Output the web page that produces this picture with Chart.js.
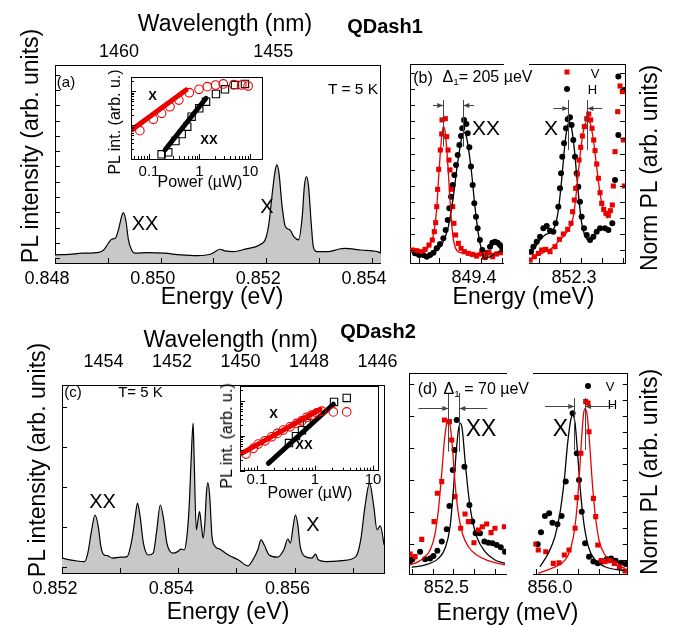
<!DOCTYPE html>
<html><head><meta charset="utf-8">
<script src="https://cdn.jsdelivr.net/npm/chart.js@4.4.1/dist/chart.umd.min.js"></script>
<style>
html,body{margin:0;padding:0;background:#fff;}
#fig{position:relative;width:675px;height:625px;overflow:hidden;background:#fff;font-family:'Liberation Sans',Arial,Helvetica,sans-serif;color:#000;}
#fig canvas{position:absolute;}
.t{position:absolute;white-space:nowrap;transform:translate(-50%,-50%);line-height:1;}
.r{transform:translate(-50%,-50%) rotate(-90deg);}
.mk{position:absolute;transform:translate(-50%,-50%);}
</style></head><body><div id="fig"></div>
<script>
// ================= DATA =================
// (a) QDash1 spectrum
const aEnergy = [0.84800,0.84827,0.84852,0.84883,0.84892,0.84901,0.84907,0.84914,0.84920,0.84926,0.84929,0.84934,0.84939,0.84945,0.84951,0.84976,0.85007,0.85038,0.85069,0.85094,0.85103,0.85112,0.85122,0.85137,0.85162,0.85187,0.85199,0.85205,0.85212,0.85217,0.85220,0.85224,0.85230,0.85236,0.85245,0.85252,0.85261,0.85268,0.85272,0.85276,0.85280,0.85285,0.85289,0.85296,0.85317,0.85336,0.85348,0.85379,0.85410,0.85417];
const aPL = [0.22,0.26,0.33,0.39,0.54,0.98,1.24,1.31,1.85,2.72,2.98,2.50,1.20,0.54,0.33,0.37,0.33,0.22,0.17,0.26,0.43,0.59,0.48,0.43,0.61,0.87,1.31,2.29,4.46,5.77,6.10,5.56,3.37,2.07,1.85,1.41,1.20,2.72,4.68,5.33,4.68,2.29,0.76,0.43,0.43,0.59,0.65,0.54,0.43,0.33];
const aEnergyTicks = [0.848,0.850,0.852,0.854];
const aEnergyTickLabels = ['0.848','0.850','0.852','0.854'];
const aWaveTicks = [1460,1455];
const aWaveTickLabels = ['1460','1455'];

// (a) inset: power dependence
const iaXPower = [0.066,0.122,0.178,0.26,0.39,0.63,0.98,1.43,2.09,2.96,4.8,6.9,9.2];
const iaXInt   = [6.8,14.7,22,34.5,54,89,112,134,150,161,153,150,140];
const iaXXPower = [0.178,0.241,0.335,0.445,0.573,0.70,0.99,1.35,2.12,3.2,5.05,7.96];
const iaXXInt   = [1.37,1.57,3.38,5.43,8.9,17.5,31,48.4,81.6,112,150,161];
const iaXFitPower = [0.0454,0.541];
const iaXFitInt   = [7.13,107];
const iaXXFitPower = [0.2075,1.346];
const iaXXFitInt   = [1.84,61];
const insetPowerTicks = [0.1,1,10];
const insetPowerTickLabels = ['0.1','1','10'];

// (b) QDash1 polarization-resolved, left (XX) and right (X)
const bXX_V_E  = [848.740,848.781,848.823,848.862,848.900,848.932,848.951,848.964,848.974,848.983,848.993,849.009,849.022,849.025,849.057,849.070,849.083,849.092,849.102,849.115,849.128,849.140,849.156,849.182,849.208,849.240,849.278,849.317,849.358,849.400,849.438,849.477,849.512,849.551,849.592];
const bXX_V_PL = [0.0,-0.005,-0.013,0.005,0.039,0.078,0.143,0.213,0.337,0.472,0.628,0.778,0.903,1.012,1.022,0.882,0.778,0.700,0.623,0.472,0.337,0.208,0.117,0.052,0.013,-0.013,-0.026,-0.034,-0.047,-0.031,-0.057,-0.021,-0.052,-0.031,-0.021];
const bXX_Vfit_E  = [848.733,848.830,848.894,848.942,848.974,848.990,849.006,849.022,849.038,849.054,849.070,849.086,849.102,849.118,849.134,849.156,849.198,849.310,849.615];
const bXX_Vfit_PL = [-0.005,-0.005,0.021,0.117,0.324,0.532,0.726,0.887,0.960,0.926,0.791,0.597,0.389,0.208,0.083,0.013,-0.021,-0.026,-0.026];
const bXX_H_E  = [848.765,848.804,848.845,848.878,848.910,848.942,848.974,849.006,849.038,849.060,849.080,849.095,849.112,849.128,849.144,849.160,849.176,849.192,849.208,849.220,849.237,849.259,849.272,849.288,849.304,849.320,849.336,849.352,849.368,849.390,849.413,849.438,849.464,849.487,849.509,849.535,849.560,849.583,849.605];
const bXX_H_PL = [-0.026,-0.039,-0.039,-0.052,-0.039,-0.021,0.013,0.047,0.091,0.156,0.233,0.324,0.415,0.506,0.584,0.661,0.739,0.817,0.887,0.947,1.012,0.981,0.908,0.799,0.649,0.506,0.363,0.259,0.169,0.078,0,-0.057,-0.021,0.026,0.057,0.065,0.057,0.039,0.013];
const bXX_Hfit_E  = [848.733,848.862,848.958,849.022,849.086,849.134,849.166,849.198,849.220,849.237,849.253,849.278,849.310,849.342,849.374,849.406,849.438,849.487,849.551,849.615];
const bXX_Hfit_PL = [-0.021,-0.039,-0.013,0.039,0.182,0.415,0.623,0.799,0.892,0.916,0.903,0.799,0.597,0.337,0.130,0,-0.065,-0.052,-0.021,-0.005];
const bX_H_E  = [851.819,851.842,851.874,851.906,851.938,851.970,852.002,852.034,852.056,852.082,852.098,852.108,852.120,852.137,852.156,852.172,852.194,852.210,852.226,852.242,852.258,852.274,852.290,852.306,852.329,852.355,852.387,852.419,852.451,852.483,852.531,852.563,852.601,852.627,852.659,852.659,852.713];
const bX_H_PL = [-0.013,0.026,0.065,0.104,0.169,0.187,0.150,0.143,0.208,0.337,0.480,0.597,0.726,0.830,0.947,1.017,1.032,0.973,0.856,0.726,0.597,0.493,0.376,0.259,0.169,0.117,0.078,0.104,0.143,0.169,0.169,0.156,0.208,0.545,0.895,1.349,1.245];
const bX_Hfit_E  = [851.810,851.858,851.906,851.954,852.002,852.050,852.082,852.114,852.146,852.169,852.188,852.210,852.236,852.258,852.284,852.306,852.332,852.370,852.403];
const bX_Hfit_PL = [-0.026,0.021,0.078,0.117,0.135,0.187,0.311,0.545,0.830,0.960,0.996,0.947,0.783,0.584,0.363,0.213,0.125,0.078,0.078];
const bX_V_E  = [851.810,851.851,851.890,851.922,851.960,852.002,852.050,852.092,852.130,852.172,852.204,852.220,852.236,852.249,852.265,852.281,852.297,852.313,852.332,852.355,852.374,852.393,852.406,852.422,852.435,852.451,852.467,852.483,852.499,852.518,852.540,852.563,852.582,852.601,852.611,852.627,852.653,852.675,852.697,852.707,852.716];
const bX_V_PL = [-0.078,-0.052,-0.026,0,0.005,-0.013,0.026,0.083,0.125,0.161,0.208,0.298,0.389,0.480,0.591,0.700,0.799,0.887,0.960,1.022,1.058,1.012,0.947,0.856,0.773,0.669,0.558,0.446,0.363,0.316,0.285,0.270,0.306,0.350,0.498,0.765,1.076,1.276,1.232,0.856,0.498];
const bX_Vfit_E  = [851.810,851.890,851.954,852.018,852.082,852.130,852.178,852.226,852.258,852.290,852.322,852.345,852.364,852.387,852.419,852.451,852.483,852.515,852.556];
const bX_Vfit_PL = [-0.073,-0.039,-0.013,0.013,0.065,0.104,0.156,0.259,0.467,0.726,0.921,0.991,1.012,0.991,0.856,0.643,0.441,0.311,0.246];
const bXXTickLabelVal = [849.4];
const bXXTickLabels = ['849.4'];
const bXTickLabelVal = [852.3];
const bXTickLabels = ['852.3'];
const bXXPeaks = [849.037,849.230];
const bXPeaks = [852.178,852.361];

// (c) QDash2 spectrum
const cEnergy = [0.852000,0.852219,0.852388,0.852444,0.852501,0.852568,0.852624,0.852669,0.852725,0.852781,0.852865,0.853007,0.853118,0.853202,0.853260,0.853298,0.853344,0.853400,0.853484,0.853568,0.853624,0.853691,0.853749,0.853804,0.853906,0.853990,0.854046,0.854103,0.854142,0.854187,0.854221,0.854255,0.854272,0.854310,0.854339,0.854366,0.854400,0.854428,0.854457,0.854484,0.854508,0.854541,0.854580,0.854636,0.854720,0.854862,0.855030,0.855199,0.855283,0.855368,0.855423,0.855479,0.855563,0.855705,0.855816,0.855884,0.855929,0.855975,0.856014,0.856052,0.856098,0.856182,0.856295,0.856363,0.856406,0.856548,0.856828,0.857054,0.857138,0.857211,0.857290,0.857363,0.857418,0.857476,0.857540];
const cPL = [0.21,0.15,0.125,0.335,0.835,1.29,1.0,0.5,0.29,0.275,0.21,0.235,0.25,0.67,1.25,1.585,1.25,0.585,0.29,0.335,0.835,1.54,1.17,0.585,0.335,0.375,0.435,0.42,0.67,1.5,2.67,3.585,2.75,0.92,1.17,1.375,1.0,0.71,1.085,1.835,2.1,1.75,0.75,0.5,0.435,0.29,0.17,0.02,0.17,0.42,0.67,0.54,0.29,0.235,0.42,0.69,0.585,1.0,1.29,1.085,0.5,0.25,0.21,0.31,0.17,0.125,0.15,0.25,0.67,1.5,2.085,1.5,0.92,1.02,0.54];
const cEnergyTicks = [0.852,0.854,0.856];
const cEnergyTickLabels = ['0.852','0.854','0.856'];
const cWaveTicks = [1454,1452,1450,1448,1446];
const cWaveTickLabels = ['1454','1452','1450','1448','1446'];

// (c) inset
const icXPower = [0.0646,0.0863,0.105,0.137,0.179,0.224,0.284,0.371,0.483,0.59,0.72,0.877,1.07,1.31,2.07,3.52];
const icXInt   = [3.0,4.37,5.8,7.2,9.36,11.7,14.6,18.1,22.6,26.8,33.6,39,45.4,50.8,48.5,48.5];
const icXXPower = [0.356,0.47,0.597,0.728,2.13,3.52];
const icXXInt   = [6.19,9.8,14.5,23,93.6,122];
const icXFitPower = [0.0545,1.22];
const icXFitInt   = [3.14,56.8];
const icXXFitPower = [0.157,2.07];
const icXXFitInt   = [1.63,80.5];

// (d) QDash2 polarization-resolved (V = black circles, H = red squares)
const dXX_V_E  = [852.292,852.303,852.340,852.364,852.388,852.404,852.423,852.444,852.468,852.481,852.497,852.505,852.516,852.553,852.577,852.591,852.607,852.628,852.649,852.668,852.688,852.708,852.728,852.748];
const dXX_V_PL = [-0.010,0.004,0.052,0.004,0.010,0.025,0.058,0.115,0.192,0.3375,0.5625,0.6875,0.875,0.583,0.344,0.240,0.167,0.167,0.115,0.108,0.104,0.094,0.079,0.052];
const dXX_H_E  = [852.292,852.316,852.348,852.407,852.423,852.444,852.457,852.481,852.492,852.508,852.535,852.556,852.572,852.599,852.620,852.639,852.660,852.681,852.700,852.745];
const dXX_H_PL = [0.0375,0.021,0.129,0.240,0.417,0.490,0.875,0.865,0.750,0.396,0.198,0.288,0.240,0.108,0.1875,0.208,0.225,0.171,0.198,0.208];
const dXX_Vfit_E  = [852.300,852.364,852.428,852.460,852.484,852.500,852.513,852.524,852.534,852.543,852.556,852.572,852.588,852.612,852.652,852.700,852.748];
const dXX_Vfit_PL = [-0.046,-0.031,0.010,0.073,0.208,0.4375,0.667,0.8125,0.854,0.8125,0.625,0.417,0.271,0.146,0.052,0,-0.021];
const dXX_Hfit_E  = [852.292,852.332,852.364,852.388,852.409,852.428,852.444,852.457,852.468,852.476,852.484,852.495,852.508,852.524,852.543,852.572,852.612,852.668,852.748];
const dXX_Hfit_PL = [-0.031,-0.010,0.021,0.0625,0.146,0.3125,0.542,0.75,0.854,0.875,0.844,0.708,0.479,0.292,0.167,0.083,0.031,-0.004,-0.031];
const dX_V_E  = [855.907,855.923,855.942,855.962,855.978,856.002,856.022,856.042,856.075,856.095,856.106,856.119,856.135,856.154,856.175,856.196,856.215,856.239,856.260,856.282,856.308,856.330];
const dX_V_PL = [0.098,0.173,0.275,0.292,0.233,0.223,0.275,0.490,0.917,0.667,0.5,0.302,0.104,0.021,-0.010,-0.021,-0.010,0.004,0.010,-0.004,-0.017,-0.025];
const dX_H_E  = [855.890,855.910,855.946,855.982,856.010,856.035,856.058,856.087,856.095,856.115,856.138,856.154,856.175,856.186,856.196,856.212,856.231,856.255,856.276,856.300,856.327];
const dX_H_PL = [0.1,0.0625,0.052,-0.021,-0.017,0.031,0.0625,0.198,0.390,0.667,0.990,0.802,0.385,0.271,0.094,-0.004,-0.010,-0.004,-0.021,-0.042,-0.069];
const dX_Vfit_E  = [855.918,855.958,855.990,856.014,856.035,856.051,856.066,856.075,856.087,856.099,856.111,856.127,856.151,856.183,856.231,856.327];
const dX_Vfit_PL = [-0.042,0.042,0.146,0.292,0.5,0.729,0.875,0.906,0.854,0.667,0.458,0.25,0.083,0,-0.042,-0.067];
const dX_Hfit_E  = [855.910,855.974,856.022,856.054,856.079,856.095,856.107,856.119,856.128,856.136,856.146,856.159,856.170,856.183,856.202,856.231,856.271,856.327];
const dX_Hfit_PL = [-0.083,-0.052,-0.021,0.031,0.146,0.3125,0.521,0.771,0.917,0.948,0.896,0.6875,0.479,0.292,0.125,0.031,-0.021,-0.052];
const dXXTickLabelVal = [852.5];
const dXXTickLabels = ['852.5'];
const dXTickLabelVal = [856.0];
const dXTickLabels = ['856.0'];
const dXXPeaks = [852.476,852.529];
const dXPeaks = [856.083,856.135];

// ================= HELPERS =================
const FONT = "'Liberation Sans', Arial, Helvetica, sans-serif";
const RED = 'rgb(235,0,0)';
const GRAY = 'rgb(200,200,200)';
Chart.defaults.font.family = FONT;
const fig = document.getElementById('fig');
const pts = (xs, ys) => xs.map((x, i) => ({x: x, y: ys[i]}));
const lam = E => 1239.84 / E;
function logMinor(min, max){ const o=[]; for(let e=-3;e<=4;e++) for(let k=1;k<10;k++){ const v=k*Math.pow(10,e); if(v>=min*0.999&&v<=max*1.001) o.push(v);} return o; }
function logMajor(min, max){ const o=[]; for(let e=-3;e<=4;e++){ const v=Math.pow(10,e); if(v>=min&&v<=max) o.push(v);} return o; }

function text(str, cx, cy, size, opt){
  opt = opt || {};
  const d = document.createElement('div');
  d.className = 't' + (opt.rot ? ' r' : '');
  d.style.left = cx + 'px'; d.style.top = cy + 'px'; d.style.fontSize = size + 'px';
  if (opt.bold) d.style.fontWeight = 'bold';
  if (opt.html) d.innerHTML = str; else d.textContent = str;
  fig.appendChild(d);
}
function marker(cx, cy, kind){
  const d = document.createElement('div');
  d.className = 'mk';
  d.style.left = cx + 'px'; d.style.top = cy + 'px';
  if (kind === 'sq'){ d.style.width='5px'; d.style.height='5px'; d.style.background=RED; }
  else { d.style.width='6px'; d.style.height='6px'; d.style.background='#000'; d.style.borderRadius='50%'; }
  fig.appendChild(d);
}

function axis(pos, min, max, o){
  o = o || {};
  const s = {
    type: o.type || 'linear', position: pos, min: min, max: max, reverse: !!o.reverse,
    grid: {display: false, drawTicks: false},
    border: {display: true, color: '#000', width: 1},
    ticks: {display: !!o.labels, font: {family: FONT, size: o.size || 18}, color: '#000',
            padding: o.pad || 0, labelOffset: o.off || 0, maxRotation: 0, minRotation: 0,
            autoSkip: false, includeBounds: false}
  };
  if (o.labels){
    const vals = o.ticks, labs = o.labels;
    s.afterBuildTicks = sc => { sc.ticks = vals.map(v => ({value: v})); };
    s.ticks.callback = (v, i) => labs[i];
  }
  return s;
}

function deco(d){
  return { id: 'deco', afterDatasetsDraw(chart){
    const ctx = chart.ctx, ca = chart.chartArea;
    ctx.save();
    ctx.lineWidth = 1; ctx.strokeStyle = '#000';
    (d.ticks || []).forEach(t => {
      const sc = chart.scales[t.scale];
      t.values.forEach(v => {
        const p = Math.round(sc.getPixelForValue(v)) + 0.5;
        ctx.beginPath();
        if (t.edge === 'bottom'){ ctx.moveTo(p, ca.bottom); ctx.lineTo(p, ca.bottom - t.len); }
        else if (t.edge === 'top'){ ctx.moveTo(p, ca.top); ctx.lineTo(p, ca.top + t.len); }
        else if (t.edge === 'left'){ ctx.moveTo(ca.left, p); ctx.lineTo(ca.left + t.len, p); }
        else { ctx.moveTo(ca.right, p); ctx.lineTo(ca.right - t.len, p); }
        ctx.stroke();
      });
    });
    const sx = chart.scales.x, sy = chart.scales.y;
    ctx.strokeStyle = '#444'; ctx.fillStyle = '#444';
    (d.vlines || []).forEach(l => {
      const x = Math.round(sx.getPixelForValue(l.x)) + 0.5;
      ctx.beginPath(); ctx.moveTo(x, sy.getPixelForValue(l.y1)); ctx.lineTo(x, sy.getPixelForValue(l.y2)); ctx.stroke();
    });
    (d.arrows || []).forEach(a => {
      const x1 = sx.getPixelForValue(a.from), x2 = sx.getPixelForValue(a.to);
      const y = Math.round(sy.getPixelForValue(a.y)) + 0.5;
      const dir = x2 > x1 ? 1 : -1;
      ctx.beginPath(); ctx.moveTo(x1, y); ctx.lineTo(x2, y); ctx.stroke();
      ctx.beginPath(); ctx.moveTo(x2, y); ctx.lineTo(x2 - dir*6, y - 2.5); ctx.lineTo(x2 - dir*6, y + 2.5); ctx.closePath(); ctx.fill();
    });
    ctx.restore();
  }};
}

function makeChart(C, P, config){
  const cv = document.createElement('canvas');
  const w = C[2] - C[0], h = C[3] - C[1];
  cv.width = w; cv.height = h;
  cv.style.left = C[0] + 'px'; cv.style.top = C[1] + 'px';
  cv.style.width = w + 'px'; cv.style.height = h + 'px';
  fig.appendChild(cv);
  const m = {left: P[0]-C[0], top: P[1]-C[1], right: C[2]-P[2], bottom: C[3]-P[3]};
  const used = {};
  Object.keys(config.options.scales).forEach(id => {
    const s = config.options.scales[id];
    const pos = s.position; used[pos] = true;
    const size = m[pos];
    s.afterFit = sc => { if (pos === 'left' || pos === 'right') sc.width = size; else sc.height = size; };
  });
  config.options.layout = {padding: {left: used.left?0:m.left, right: used.right?0:m.right, top: used.top?0:m.top, bottom: used.bottom?0:m.bottom}};
  config.options.responsive = false;
  config.options.animation = false;
  config.options.devicePixelRatio = 1;
  config.options.events = [];
  config.options.plugins = {legend: {display: false}, tooltip: {enabled: false}};
  return new Chart(cv, config);
}

const specDS = (xs, ys) => ({data: pts(xs, ys), xAxisID: 'x', yAxisID: 'y', borderColor: '#000', borderWidth: 1.2,
  backgroundColor: GRAY, fill: 'start', pointRadius: 0, cubicInterpolationMode: 'monotone'});
const fitDS = (xs, ys, col) => ({data: pts(xs, ys), xAxisID: 'x', yAxisID: 'y', borderColor: col, borderWidth: 1.3,
  fill: false, pointRadius: 0, cubicInterpolationMode: 'monotone'});
const sqDS = (xs, ys) => ({data: pts(xs, ys), xAxisID: 'x', yAxisID: 'y', showLine: false, pointStyle: 'rect',
  pointRadius: 3.6, pointBackgroundColor: RED, pointBorderWidth: 0, borderColor: RED});
const ciDS = (xs, ys) => ({data: pts(xs, ys), xAxisID: 'x', yAxisID: 'y', showLine: false, pointStyle: 'circle',
  pointRadius: 3, pointBackgroundColor: '#000', pointBorderWidth: 0, borderColor: '#000'});
const thickDS = (xs, ys, col) => ({data: pts(xs, ys), xAxisID: 'x', yAxisID: 'y', borderColor: col, borderWidth: 5,
  borderCapStyle: 'round', fill: false, pointRadius: 0});
const openCircDS = (xs, ys) => ({data: pts(xs, ys), xAxisID: 'x', yAxisID: 'y', showLine: false, pointStyle: 'circle',
  pointRadius: 4.3, pointBackgroundColor: 'rgba(255,255,255,0)', pointBorderColor: RED, pointBorderWidth: 1.1});
const openSqDS = (xs, ys) => ({data: pts(xs, ys), xAxisID: 'x', yAxisID: 'y', showLine: false, pointStyle: 'rect',
  pointRadius: 5.2, pointBackgroundColor: 'rgba(255,255,255,0)', pointBorderColor: '#000', pointBorderWidth: 1.1});

// ================= PANEL (a) =================
const aEmin = 0.848, aEmax = 0.85417;
const aYmin = -0.31, aYmax = 12.63;
makeChart([0,0,400,312], [55,65,387,263], {
  type: 'line',
  data: {datasets: [specDS(aEnergy, aPL)]},
  options: {scales: {
    x: axis('bottom', aEmin, aEmax, {ticks: aEnergyTicks, labels: aEnergyTickLabels, pad: 5, off: -8}),
    x2: axis('top', lam(aEmax), lam(aEmin), {reverse: true, ticks: aWaveTicks, labels: aWaveTickLabels, pad: 2}),
    y: axis('left', aYmin, aYmax),
    y2: axis('right', aYmin, aYmax)
  }},
  plugins: [deco({ticks: [
    {scale: 'x', edge: 'bottom', len: 5, values: [0.848,0.849,0.850,0.851,0.852,0.853,0.854]},
    {scale: 'y', edge: 'left', len: 5, values: [0,1,2,3,4,5,6,7,8,9,10,11,12]}
  ]})]
});

// inset (a)
const iaPmin = 0.0441, iaPmax = 17.3, iaImin = 1, iaImax = 258;
makeChart([96,70,272,196], [131,77,262,159], {
  type: 'line',
  data: {datasets: [
    thickDS(iaXFitPower, iaXFitInt, RED),
    openCircDS(iaXPower, iaXInt),
    thickDS(iaXXFitPower, iaXXFitInt, '#000'),
    openSqDS(iaXXPower, iaXXInt)
  ]},
  options: {scales: {
    x: axis('bottom', iaPmin, iaPmax, {type: 'logarithmic', ticks: insetPowerTicks, labels: insetPowerTickLabels, size: 15, pad: 4}),
    xt: axis('top', iaPmin, iaPmax, {type: 'logarithmic'}),
    y: axis('left', iaImin, iaImax, {type: 'logarithmic'}),
    yr: axis('right', iaImin, iaImax, {type: 'logarithmic'})
  }},
  plugins: [deco({ticks: [
    {scale: 'x', edge: 'bottom', len: 3, values: logMinor(iaPmin, iaPmax)},
    {scale: 'x', edge: 'bottom', len: 5, values: logMajor(iaPmin, iaPmax)},
    {scale: 'y', edge: 'left', len: 3, values: logMinor(iaImin, iaImax)},
    {scale: 'y', edge: 'left', len: 5, values: logMajor(iaImin, iaImax)}
  ]})]
});

// ================= PANEL (b) =================
const bYmin = -0.101, bYmax = 1.447;
const bYTicks = [0,0.125,0.25,0.375,0.5,0.625,0.75,0.875,1.0,1.125,1.25,1.375];
makeChart([400,55,510,300], [410,64,503,263], {
  type: 'line',
  data: {datasets: [
    fitDS(bXX_Vfit_E, bXX_Vfit_PL, RED), fitDS(bXX_Hfit_E, bXX_Hfit_PL, '#000'),
    sqDS(bXX_V_E, bXX_V_PL), ciDS(bXX_H_E, bXX_H_PL)
  ]},
  options: {scales: {
    x: axis('bottom', 848.717, 849.612, {ticks: bXXTickLabelVal, labels: bXXTickLabels, pad: 4.5, off: -7}),
    xt: axis('top', 848.717, 849.612),
    y: axis('left', bYmin, bYmax)
  }},
  plugins: [deco({
    ticks: [{scale: 'x', edge: 'bottom', len: 5, values: [848.8,849.0,849.2,849.4,849.6]},
            {scale: 'y', edge: 'left', len: 5, values: bYTicks}],
    vlines: [{x: bXXPeaks[0], y1: 1.167, y2: 0.804}, {x: bXXPeaks[1], y1: 1.167, y2: 0.804}],
    arrows: [{from: 848.938, to: bXXPeaks[0], y: 1.128}, {from: 849.333, to: bXXPeaks[1], y: 1.128}]
  })]
});
makeChart([520,55,640,300], [529,64,625,263], {
  type: 'line',
  data: {datasets: [
    fitDS(bX_Vfit_E, bX_Vfit_PL, RED), fitDS(bX_Hfit_E, bX_Hfit_PL, '#000'),
    sqDS(bX_V_E, bX_V_PL), ciDS(bX_H_E, bX_H_PL)
  ]},
  options: {scales: {
    x: axis('bottom', 851.80, 852.723, {ticks: bXTickLabelVal, labels: bXTickLabels, pad: 4.5, off: -7}),
    xt: axis('top', 851.80, 852.723),
    y: axis('right', bYmin, bYmax)
  }},
  plugins: [deco({
    ticks: [{scale: 'x', edge: 'bottom', len: 5, values: [851.9,852.1,852.3,852.5,852.7]},
            {scale: 'y', edge: 'right', len: 5, values: bYTicks}],
    vlines: [{x: bXPeaks[0], y1: 1.167, y2: 0.778}, {x: bXPeaks[1], y1: 1.167, y2: 0.778}],
    arrows: [{from: 852.034, to: bXPeaks[0], y: 1.107}, {from: 852.505, to: bXPeaks[1], y: 1.107}]
  })]
});

// ================= PANEL (c) =================
const cEmin = 0.852, cEmax = 0.85754;
const cYmin = -0.16, cYmax = 4.54;
makeChart([0,312,410,625], [62,385,390.7,573], {
  type: 'line',
  data: {datasets: [specDS(cEnergy, cPL)]},
  options: {scales: {
    x: axis('bottom', cEmin, cEmax, {ticks: cEnergyTicks, labels: cEnergyTickLabels, pad: 5, off: -7}),
    x2: axis('top', lam(cEmax), lam(cEmin), {reverse: true, ticks: cWaveTicks, labels: cWaveTickLabels, pad: 12}),
    y: axis('left', cYmin, cYmax),
    y2: axis('right', cYmin, cYmax)
  }},
  plugins: [deco({ticks: [
    {scale: 'x', edge: 'bottom', len: 5, values: [0.852,0.853,0.854,0.855,0.856,0.857]},
    {scale: 'y', edge: 'left', len: 5, values: [0,1,2,3,4]}
  ]})]
});

// inset (c)
const icPmin = 0.0509, icPmax = 12.2, icImin = 1, icImax = 263;
makeChart([205,380,392,500], [240,386,378,470.7], {
  type: 'line',
  data: {datasets: [
    thickDS(icXFitPower, icXFitInt, RED),
    openCircDS(icXPower, icXInt),
    thickDS(icXXFitPower, icXXFitInt, '#000'),
    openSqDS(icXXPower, icXXInt)
  ]},
  options: {scales: {
    x: axis('bottom', icPmin, icPmax, {type: 'logarithmic', ticks: insetPowerTicks, labels: insetPowerTickLabels, size: 15, pad: 0}),
    xt: axis('top', icPmin, icPmax, {type: 'logarithmic'}),
    y: axis('left', icImin, icImax, {type: 'logarithmic'}),
    yr: axis('right', icImin, icImax, {type: 'logarithmic'})
  }},
  plugins: [deco({ticks: [
    {scale: 'x', edge: 'bottom', len: 3, values: logMinor(icPmin, icPmax)},
    {scale: 'x', edge: 'bottom', len: 5, values: logMajor(icPmin, icPmax)},
    {scale: 'y', edge: 'left', len: 3, values: logMinor(icImin, icImax)},
    {scale: 'y', edge: 'left', len: 5, values: logMajor(icImin, icImax)}
  ]})]
});

// ================= PANEL (d) =================
const dYmin = -0.0875, dYmax = 1.167;
makeChart([400,365,512,610], [409.3,373.3,506,574], {
  type: 'line',
  data: {datasets: [
    fitDS(dXX_Hfit_E, dXX_Hfit_PL, RED), fitDS(dXX_Vfit_E, dXX_Vfit_PL, '#000'),
    sqDS(dXX_H_E, dXX_H_PL), ciDS(dXX_V_E, dXX_V_PL)
  ]},
  options: {scales: {
    x: axis('bottom', 852.288, 852.753, {ticks: dXXTickLabelVal, labels: dXXTickLabels, pad: 3.5, off: -7}),
    xt: axis('top', 852.288, 852.753),
    y: axis('left', dYmin, dYmax)
  }},
  plugins: [deco({
    ticks: [{scale: 'x', edge: 'bottom', len: 5, values: [852.3,852.4,852.5,852.6,852.7]},
            {scale: 'y', edge: 'left', len: 5, values: [0.1,0.3,0.5,0.7,0.9,1.1]}],
    vlines: [{x: dXXPeaks[0], y1: 1.044, y2: 0.677}, {x: dXXPeaks[1], y1: 1.044, y2: 0.677}],
    arrows: [{from: 852.332, to: dXXPeaks[0], y: 0.948}, {from: 852.663, to: dXXPeaks[1], y: 0.948}]
  })]
});
makeChart([525,365,640,610], [533.3,373.3,627.7,574], {
  type: 'line',
  data: {datasets: [
    fitDS(dX_Hfit_E, dX_Hfit_PL, RED), fitDS(dX_Vfit_E, dX_Vfit_PL, '#000'),
    sqDS(dX_H_E, dX_H_PL), ciDS(dX_V_E, dX_V_PL)
  ]},
  options: {scales: {
    x: axis('bottom', 855.886, 856.340, {ticks: dXTickLabelVal, labels: dXTickLabels, pad: 3.5, off: -7}),
    xt: axis('top', 855.886, 856.340),
    y: axis('right', dYmin, dYmax)
  }},
  plugins: [deco({
    ticks: [{scale: 'x', edge: 'bottom', len: 5, values: [855.9,856.0,856.1,856.2,856.3]},
            {scale: 'y', edge: 'right', len: 5, values: [0,0.1,0.2,0.3,0.4,0.5,0.6,0.7,0.8,0.9,1.0,1.1]}],
    vlines: [{x: dXPeaks[0], y1: 1.0125, y2: 0.6875}, {x: dXPeaks[1], y1: 1.0125, y2: 0.6875}],
    arrows: [{from: 855.942, to: dXPeaks[0], y: 0.9625}, {from: 856.271, to: dXPeaks[1], y: 0.9625}]
  })]
});

// ================= TEXT =================
const SUB = '<span style="font-size:62%;position:relative;top:0.35em">1</span>';
text('Wavelength (nm)', 225, 23, 23);
text('QDash1', 385, 26, 20, {bold: true});
text('PL intensity (arb. units)', 30, 145.5, 23, {rot: true});
text('Energy (eV)', 222, 296, 23);
text('(a)', 66, 81, 15);
text('T = 5 K', 353, 89, 15.5);
text('XX', 145, 223, 20);
text('X', 267, 206, 20);
text('PL int. (arb. u.)', 115, 122, 16, {rot: true});
text('Power (\u00b5W)', 200, 182, 16);
text('X', 152.5, 94.5, 13, {bold: true});
text('XX', 209, 138.5, 13, {bold: true});

text('(b)', 423, 77.5, 16);
text('\u0394' + SUB + '= 205 \u00b5eV', 487.5, 77, 16, {html: true});
text('XX', 486, 127, 21);
text('X', 551, 127, 21);
marker(566.7, 72.3, 'sq'); text('V', 595, 72.5, 13);
marker(566.7, 89.3, 'ci'); text('H', 592.5, 89, 13);
text('Energy (meV)', 523.5, 296, 23);
text('Norm PL (arb. units)', 648.5, 167.5, 23, {rot: true});

text('Wavelength (nm)', 230.7, 339, 23);
text('QDash2', 378, 331, 20, {bold: true});
text('PL intensity (arb. units)', 37, 460, 23, {rot: true});
text('Energy (eV)', 228, 611, 23);
text('(c)', 73, 391, 15);
text('T= 5 K', 140.5, 391, 15);
text('XX', 102.5, 500.5, 20);
text('X', 313, 524, 20);
text('PL int. (arb. u.)', 227, 436, 16, {rot: true});
text('Power (\u00b5W)', 310, 493, 16);
text('X', 273.5, 412.5, 13, {bold: true});
text('XX', 304, 444, 13, {bold: true});

text('(d)', 427.5, 389, 16);
text('\u0394' + SUB + ' = 70 \u00b5eV', 486.3, 389, 16, {html: true});
text('XX', 481, 428, 23);
text('X', 560.3, 428, 23);
marker(588.3, 386, 'ci'); text('V', 610, 386, 13);
marker(588.3, 402.7, 'sq'); text('H', 612.5, 404, 13);
text('Energy (meV)', 507.5, 612, 23);
text('Norm PL (arb. units)', 648.5, 471.7, 23, {rot: true});
</script></body></html>
